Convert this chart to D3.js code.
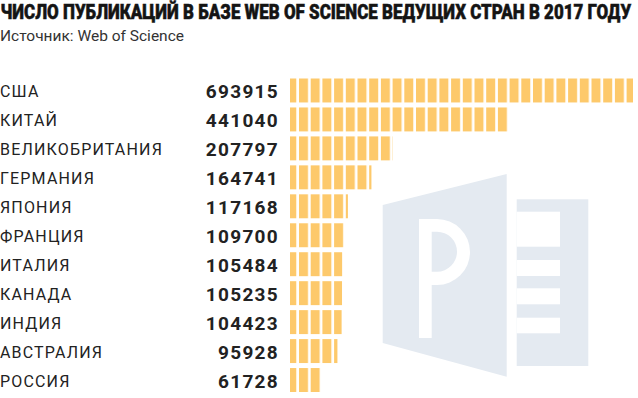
<!DOCTYPE html>
<html>
<head>
<meta charset="utf-8">
<script src="https://cdn.jsdelivr.net/npm/d3@7"></script>
<style>
  html, body { margin: 0; padding: 0; background: #fff; }
  svg { display: block; }
</style>
</head>
<body>
<svg id="chart" width="638" height="398"></svg>
<script>
const titleText = "ЧИСЛО ПУБЛИКАЦИЙ В БАЗЕ WEB OF SCIENCE ВЕДУЩИХ СТРАН В 2017 ГОДУ";
const subtitleText = "Источник: Web of Science";
const countries = ["США", "КИТАЙ", "ВЕЛИКОБРИТАНИЯ", "ГЕРМАНИЯ", "ЯПОНИЯ", "ФРАНЦИЯ", "ИТАЛИЯ", "КАНАДА", "ИНДИЯ", "АВСТРАЛИЯ", "РОССИЯ"];
const values = [693915, 441040, 207797, 164741, 117168, 109700, 105484, 105235, 104423, 95928, 61728];

const W = 638, H = 398;
const svg = d3.select("#chart");
const font = "Roboto, 'Noto Sans', 'DejaVu Sans', sans-serif";
const barColor = "#fdc96b";
const wmColor = "#e4eaf1";

// segmented bar pattern
const defs = svg.append("defs");
const pat = defs.append("pattern")
  .attr("id", "seg")
  .attr("patternUnits", "userSpaceOnUse")
  .attr("x", 287.3).attr("y", 0)
  .attr("width", 11.7).attr("height", H);
pat.append("rect").attr("x", 0).attr("y", 0).attr("width", 9).attr("height", H).attr("fill", barColor);

// watermark (decorative)
const wm = svg.append("g").attr("class", "watermark");
wm.append("polygon")
  .attr("points", "382.7,205 506.7,174 506.7,376.7 382.7,343")
  .attr("fill", wmColor);
wm.append("path")
  .attr("d", "M419,219 H437 A33,33 0 0 1 437,285 H431.7 V338 H419 Z M431.7,231.7 H437 A20,20 0 0 1 437,271.7 H431.7 Z")
  .attr("fill", "#fff").attr("fill-rule", "evenodd");
wm.append("rect").attr("x", 516.7).attr("y", 199.3).attr("width", 71.6).attr("height", 166.7).attr("fill", wmColor);
[[211.7, 246.7], [260, 276], [288.3, 304.3], [317.7, 333.3]].forEach(([a, b]) => {
  wm.append("rect").attr("x", 516.7).attr("y", a).attr("width", 43.3).attr("height", b - a).attr("fill", "#fff");
});

// title (condensed by horizontal scaling to fit)
const tg = svg.append("g");
const title = tg.append("text")
  .attr("x", 0).attr("y", 0)
  .attr("font-family", font).attr("font-weight", 900).attr("font-size", 19.5)
  .attr("fill", "#141414").attr("stroke", "#141414").attr("stroke-width", 0.5)
  .text(titleText);
const tLen = title.node().getComputedTextLength();
tg.attr("transform", `translate(0.5,19) scale(${631 / tLen},1)`);

svg.append("text")
  .attr("x", 0).attr("y", 40.5)
  .attr("font-family", font).attr("font-size", 15.5)
  .attr("fill", "#333")
  .text(subtitleText);

// scales
const x = d3.scaleLinear().domain([0, d3.max(values)]).range([290, 633]);
const y = d3.scaleBand().domain(countries).range([76, 394.5]).paddingInner(0.1727).paddingOuter(0.0864);

const rows = svg.append("g").selectAll("g")
  .data(countries.map((c, i) => ({ c, v: values[i] })))
  .join("g");

rows.append("rect")
  .attr("x", x(0))
  .attr("y", d => y(d.c))
  .attr("width", d => x(d.v) - x(0))
  .attr("height", y.bandwidth())
  .attr("fill", "url(#seg)");

const labels = rows.append("text")
  .attr("x", 0)
  .attr("y", d => y(d.c) + y.bandwidth() / 2 + 7)
  .attr("font-family", font).attr("font-size", 16)
  .attr("fill", "#222")
  .text(d => d.c);
// fit the longest label to its width in the reference (~163px)
let longest = 0, longestChars = 1;
labels.each(function (d) {
  const l = this.getComputedTextLength();
  if (l > longest) { longest = l; longestChars = d.c.length; }
});
const ls = (163 - longest) / longestChars;
if (ls >= 0) labels.attr("letter-spacing", ls);
else labels.attr("font-size", 16 * 163 / longest);

rows.append("text")
  .attr("x", 279)
  .attr("y", d => y(d.c) + y.bandwidth() / 2 + 7.5)
  .attr("text-anchor", "end")
  .attr("font-family", font).attr("font-weight", 700).attr("font-size", 19).attr("letter-spacing", 1.3)
  .attr("fill", "#222")
  .text(d => d3.format("d")(d.v));
</script>
</body>
</html>
